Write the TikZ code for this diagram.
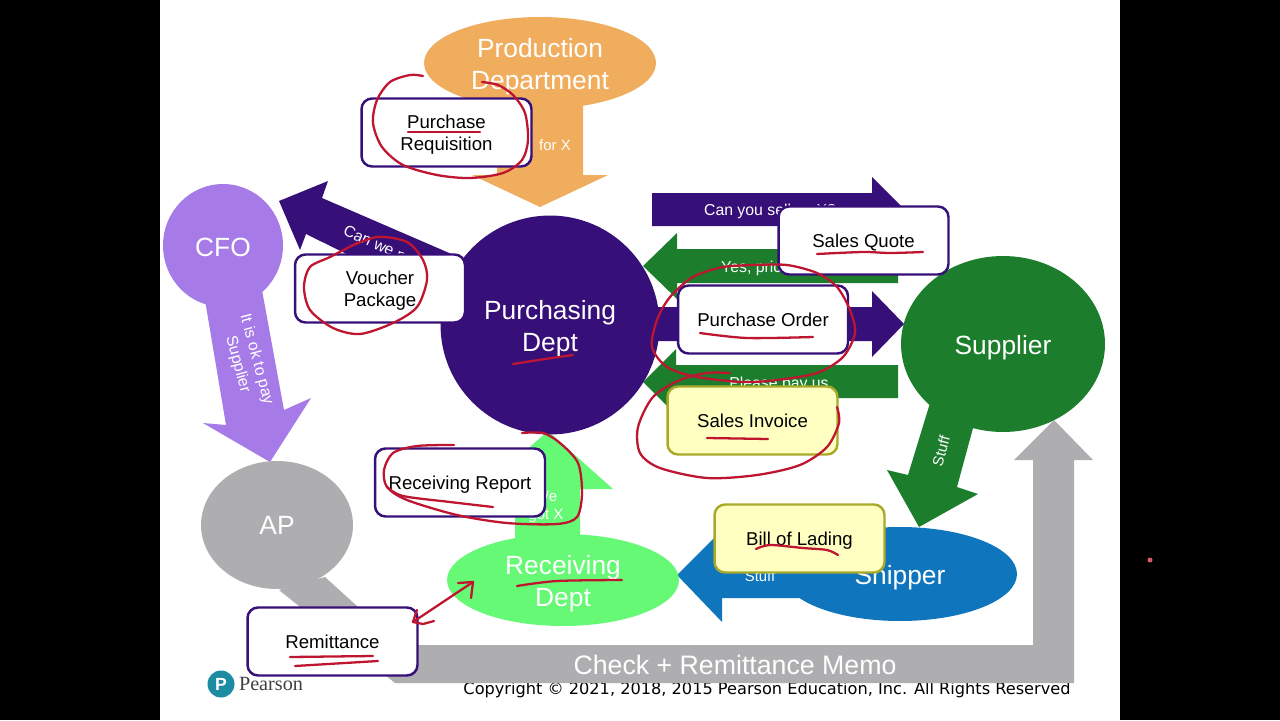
\documentclass[tikz,border=0pt]{standalone}
\usepackage{fontspec}
\setmainfont{Liberation Sans}
\newfontfamily\copyfont{DejaVu Sans}
\newfontfamily\logofont{Liberation Serif}
\usetikzlibrary{shapes.geometric}
\definecolor{prodorange}{HTML}{F0AD5E}
\definecolor{buyviolet}{HTML}{360F78}
\definecolor{cfolilac}{HTML}{A67BE8}
\definecolor{apgrey}{HTML}{AEADB0}
\definecolor{sellgreen}{HTML}{1C7E2C}
\definecolor{recvlime}{HTML}{66F975}
\definecolor{shipblue}{HTML}{0F75BC}
\definecolor{penred}{HTML}{BE1530}
\definecolor{noteyellow}{HTML}{FFFFC2}
\definecolor{noteolive}{HTML}{A9A92A}
\definecolor{logoteal}{HTML}{1D8CA3}
\tikzset{
    party/.style={inner sep=0pt},
    partyname/.style={inner sep=0pt,text=white,align=center,font=\fontsize{15}{18.2}\selectfont},
    flowtext/.style={inner sep=0pt,text=white,align=center,font=\fontsize{9}{11}\selectfont},
    paper/.style={draw=buyviolet,fill=white,line width=1.4pt,rounded corners=6pt,inner sep=0pt,
        minimum width=3.4cm,minimum height=1.36cm},
    yellowpaper/.style={paper,draw=noteolive,fill=noteyellow},
    papername/.style={inner sep=0pt,align=center,font=\fontsize{10.6}{12.5}\selectfont},
    pen/.style={draw=penred,line width=1.3pt,line cap=round,line join=round}
}
\begin{document}
\begin{tikzpicture}[x=0.02cm,y=-0.02cm]
        \fill[black] (0,0) rectangle (1280,720);
        \useasboundingbox (0,0) rectangle (1280,720);
        \fill[white] (160,0) rectangle (1120,720);
        \node[circle,fill=penred!60!pink,inner sep=0pt,minimum size=0.1cm] (pointer) at (1150,560) {};
        % footer goes under the grey arrow
        \node[inner sep=0pt,font=\copyfont\fontsize{9.2}{11}\selectfont] (copy) at (767,690) {Copyright © 2021, 2018, 2015 Pearson Education, Inc. All Rights Reserved};
        \node[circle,fill=logoteal,text=white,inner sep=0pt,minimum size=0.54cm,font=\bfseries\fontsize{10}{11}\selectfont] (logo) at (221,684) {P};
        \node[inner sep=0pt,text=black!75,font=\logofont\fontsize{11.5}{12}\selectfont] (pearson) at (271,684) {Pearson};
        % block arrows
        \fill[prodorange] (497,100) -- (583,100) -- (583,175) -- (608,175) -- (540,207) -- (472,175) -- (497,175) -- cycle;
        \fill[buyviolet] (279,201) -- (328,181) -- (322,198) -- (470,262) -- (440,300) -- (306,234) -- (300,250) -- cycle;
        \fill[cfolilac] (205,300) -- (262,290) -- (284,410) -- (311,398) -- (270,462) -- (203,423) -- (226,425) -- cycle;
        \fill[apgrey] (279,590) -- (325,577) -- (400,645) -- (1033,645) -- (1033,460) -- (1014,460) -- (1054,420) -- (1093,460) -- (1074,460) -- (1074,683) -- (395,683) -- cycle;
        \fill[buyviolet] (652,193) -- (872,193) -- (872,177) -- (905,210) -- (872,243) -- (872,226) -- (652,226) -- cycle;
        \fill[sellgreen] (898,249) -- (677,249) -- (677,233) -- (643,266) -- (677,299) -- (677,283) -- (898,283) -- cycle;
        \fill[buyviolet] (640,307) -- (872,307) -- (872,291) -- (904,324) -- (872,357) -- (872,341) -- (640,341) -- cycle;
        \fill[sellgreen] (898,365) -- (676,365) -- (676,349) -- (643,382) -- (676,415) -- (676,398) -- (898,398) -- cycle;
        \fill[sellgreen] (930,403) -- (973,428) -- (957,487) -- (978,494) -- (919,527) -- (887,470) -- (908,475) -- cycle;
        \fill[recvlime] (515,540) -- (515,489) -- (482,489) -- (548,431) -- (613,489) -- (580,489) -- (580,540) -- cycle;
        \fill[shipblue] (810,550) -- (722,550) -- (722,530) -- (677,575) -- (722,622) -- (722,598) -- (810,598) -- cycle;
        % departments
        \node[party,ellipse,fill=prodorange,minimum width=4.64cm,minimum height=1.84cm] (prod) at (540,63) {};
        \node[party,circle,fill=buyviolet,minimum size=4.38cm] (buy) at (550,325) {};
        \node[party,ellipse,fill=cfolilac,minimum width=2.4cm,minimum height=2.46cm] (cfo) at (223,245.5) {};
        \node[party,ellipse,fill=apgrey,minimum width=3.04cm,minimum height=2.56cm] (ap) at (277,525) {};
        \node[party,ellipse,fill=sellgreen,minimum width=4.08cm,minimum height=3.52cm] (supplier) at (1003,344) {};
        \node[party,ellipse,fill=recvlime,minimum width=4.64cm,minimum height=1.84cm] (recv) at (563,580) {};
        \node[party,ellipse,fill=shipblue,minimum width=4.68cm,minimum height=1.88cm] (ship) at (900,574) {};
        \node[partyname] (prodname) at (540,67) {Production\\Department};
        \node[partyname] (buyname) at (550,329) {Purchasing\\Dept};
        \node[partyname] (cfoname) at (223,247) {CFO};
        \node[partyname] (apname) at (277,525) {AP};
        \node[partyname] (suppliername) at (1003,348) {Supplier};
        \node[partyname] (recvname) at (563,584) {Receiving\\Dept};
        \node[partyname] (shipname) at (900,578) {Shipper};
        % texts on the arrows
        \node[flowtext,font=\fontsize{8.5}{10}\selectfont] (forx) at (555,145) {for X};
        \node[flowtext,rotate=-24] (canwe) at (386,250) {Can we pay?};
        \node[flowtext,rotate=-75] (okpay) at (247,362) {It is ok to pay\\Supplier};
        \node[flowtext] (sell) at (770,211) {Can you sell us X?};
        \node[flowtext] (price) at (771,268) {Yes, price is Y};
        \node[flowtext] (please) at (779,384) {Please pay us};
        \node[flowtext,rotate=75,font=\fontsize{8.5}{10}\selectfont] (stuffa) at (941,451) {Stuff};
        \node[flowtext,font=\fontsize{8.5}{10}\selectfont] (stuffb) at (760,576) {Stuff};
        \node[flowtext,font=\fontsize{8.5}{10.5}\selectfont] (gotx) at (546,507) {We\\got X};
        \node[partyname,font=\fontsize{15.2}{18}\selectfont] (memo) at (735,665) {Check + Remittance Memo};
        % documents
        \node[paper] (req) at (446.5,132.5) {};
        \node[paper] (voucher) at (380,288.5) {};
        \node[paper] (quote) at (863.5,240.5) {};
        \node[paper] (order) at (763,319.5) {};
        \node[yellowpaper] (invoice) at (752.5,420.5) {};
        \node[paper] (report) at (460,482.5) {};
        \node[paper] (remit) at (332.5,641.5) {};
        \node[yellowpaper] (lading) at (799.5,538.5) {};
        \node[papername] (reqname) at (446.5,134.5) {Purchase\\Requisition};
        \node[papername] (vouchername) at (380,290.5) {Voucher\\Package};
        \node[papername] (quotename) at (863.5,242.5) {Sales Quote};
        \node[papername] (ordername) at (763,320) {Purchase Order};
        \node[papername] (invoicename) at (752.5,421) {Sales Invoice};
        \node[papername] (reportname) at (460,484.5) {Receiving Report};
        \node[papername] (remitname) at (332.5,642) {Remittance};
        \node[papername] (ladingname) at (799.5,540.5) {Bill of Lading};
        % red pen
        \draw[pen] plot[smooth] coordinates {(423,76) (410,75) (390,82) (377,100) (373,123) (382,147) (403,165) (437,175) (470,178) (503,173) (522,160) (528,140) (525,113) (513,95) (498,85) (482,82)};
        \draw[pen] (408,132) -- (480,132);
        \draw[pen] plot[smooth] coordinates {(347,248) (377,237) (407,242) (423,260) (427,280) (417,307) (393,323) (360,334) (333,328) (310,310) (304,287) (310,267) (330,257) (357,243)};
        \draw[pen] plot[smooth] coordinates {(513,364) (545,359) (573,355)};
        \draw[pen] plot[smooth] coordinates {(817,254) (863,252) (890,253) (923,252)};
        \draw[pen] plot[smooth] coordinates {(755,265) (787,265) (817,273) (837,287) (850,310) (855,333) (843,357) (817,373) (777,380) (743,382) (697,377) (667,367) (652,347) (657,320) (670,297) (693,277) (723,267) (755,265)};
        \draw[pen] plot[smooth] coordinates {(700,333) (747,338) (813,337)};
        \draw[pen] plot[smooth] coordinates {(730,373) (707,373) (680,380) (653,397) (638,427) (640,453) (660,468) (707,478) (757,475) (800,465) (827,447) (839,423) (837,407)};
        \draw[pen] (707,438) -- (768,439);
        \draw[pen] plot[smooth] coordinates {(454,445) (417,446) (393,453) (384,470) (387,487) (407,500) (457,515) (507,523) (557,524) (577,517) (582,493) (578,463) (560,443) (543,433) (522,433)};
        \draw[pen] plot[smooth] coordinates {(387,487) (403,496) (450,502) (493,507)};
        \draw[pen] plot[smooth] coordinates {(517,586) (557,581) (622,580)};
        \draw[pen] (413,622) -- (473,582);
        \draw[pen] (458,583) -- (473,582) -- (471,598);
        \draw[pen] (417,610) -- (413,622) -- (423,624) -- (434,621);
        \draw[pen] (290,657) -- (373,656);
        \draw[pen] (295,666) -- (378,661);
        \draw[pen] plot[smooth] coordinates {(756,549) (770,545) (803,548) (827,550) (838,555)};
\end{tikzpicture}
\end{document}
